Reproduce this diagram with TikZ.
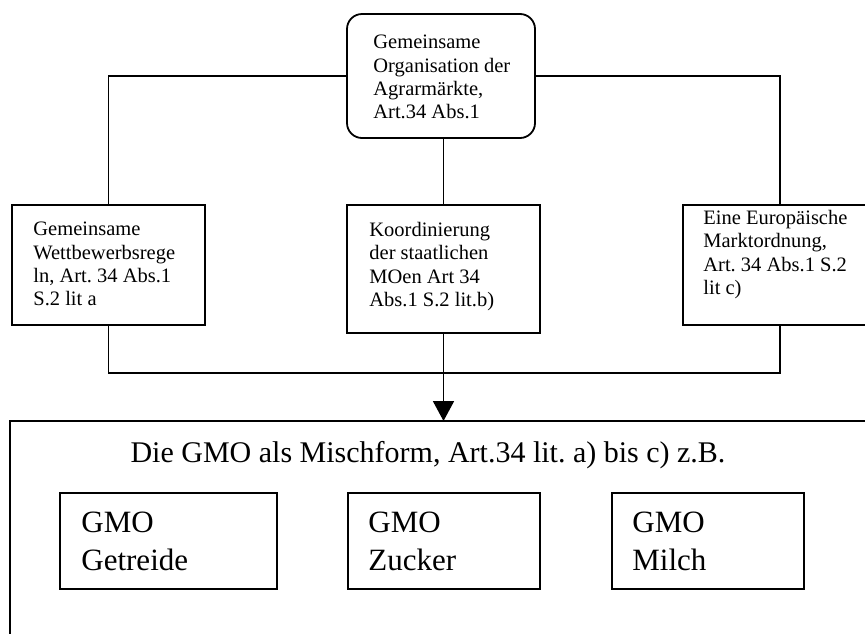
\documentclass[tikz,border=0pt]{standalone}
\usepackage{fontspec}
\setmainfont{Liberation Serif}
\usetikzlibrary{arrows.meta}
\frenchspacing

\begin{document}
\begin{tikzpicture}[x=0.5pt,y=-0.5pt,
  box/.style={draw,line width=0.9pt,inner sep=0pt,outer sep=0pt,anchor=north west},
  smalltxt/.style={inner sep=0pt,anchor=north west,align=left,
    font=\fontsize{10.25pt}{11.6pt}\selectfont},
  bigtxt/.style={inner sep=0pt,anchor=north west,align=left,
    font=\fontsize{15.5pt}{19pt}\selectfont},
  conn/.style={line width=0.9pt}]

\clip (0,0) rectangle (865,633);

% upper level: common organisation and its three forms
\node[box,rounded corners=7.5pt,minimum width=94pt,minimum height=62pt] (gom) at (347,14) {};
\node[smalltxt] (gomtxt) at (373,35) {Gemeinsame\\Organisation der\\Agrarmärkte,\\Art.34 Abs.1};

\node[box,minimum width=96.5pt,minimum height=60pt] (wett) at (12,205) {};
\node[smalltxt] (wetttxt) at (33,222) {Gemeinsame\\Wettbewerbsrege\\ln, Art. 34 Abs.1\\S.2 lit a};

\node[box,minimum width=96.5pt,minimum height=64pt] (koord) at (347,205) {};
\node[smalltxt] (koordtxt) at (369,222) {Koordinierung\\der staatlichen\\MOen Art 34\\Abs.1 S.2 lit.b)};

\node[box,minimum width=97pt,minimum height=60pt] (euro) at (683,205) {};
\node[smalltxt] (eurotxt) at (703,210) {Eine Europäische\\Marktordnung,\\Art. 34 Abs.1 S.2\\lit c)};

% lower level: mixed form with examples
\node[box,minimum width=434pt,minimum height=125pt] (gmo) at (10,421) {};
\node[inner sep=0pt,anchor=base,font=\fontsize{15pt}{19pt}\selectfont] (gmotxt) at (428,462)
  {Die GMO als Mischform, Art.34 lit. a) bis c) z.B.};

\node[box,minimum width=108.5pt,minimum height=48pt] (getr) at (60,493) {};
\node[bigtxt] (getrtxt) at (81,512) {GMO\\Getreide};

\node[box,minimum width=96pt,minimum height=48pt] (zuck) at (348,493) {};
\node[bigtxt] (zucktxt) at (368,512) {GMO\\Zucker};

\node[box,minimum width=96pt,minimum height=48pt] (milch) at (612,493) {};
\node[bigtxt] (milchtxt) at (632,512) {GMO\\Milch};

% connectors
\draw[conn] (gom.west) -| (wett.north);
\draw[conn] (gom.east) -| (euro.north);
\draw[conn] (koord.north) -- (koord.north |- gom.south);

\coordinate (join) at (koord.south |- 0,373);
\draw[conn] (wett.south) |- (join) -| (euro.south);
\draw[conn,-{Triangle[width=10.5pt,length=10pt]}] (koord.south) -- (koord.south |- gmo.north);

\end{tikzpicture}
\end{document}
